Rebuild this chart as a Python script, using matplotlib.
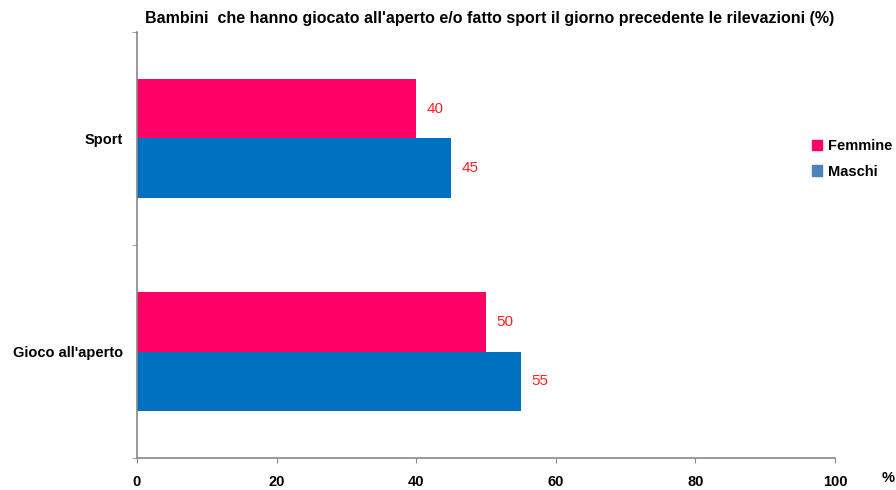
import matplotlib
matplotlib.use("Agg")
from matplotlib import pyplot as plt
from matplotlib.patches import Patch
import numpy as np

categories = ["Sport", "Gioco all'aperto"]
femmine = [40, 50]
maschi = [45, 55]
series_names = ["Femmine", "Maschi"]
x_ticks = [0, 20, 40, 60, 80, 100]

pink = "#FF0066"
blue = "#0070C0"
legend_blue = "#4F81BD"
label_red = "#FF2020"

plt.rcParams['font.family'] = ['Liberation Sans Narrow', 'Liberation Sans', 'DejaVu Sans']

fig = plt.figure(figsize=(8.96, 4.9), dpi=100)
ax = fig.add_axes([0.1529, 0.0653, 0.779, 0.8694])

# categories from top to bottom: Sport at y=1, Gioco at y=0
ypos = np.array([1, 0])
h = 0.28
bf = ax.barh(ypos + h / 2, femmine, height=h, color=pink)
bm = ax.barh(ypos - h / 2, maschi, height=h, color=blue)

for bars, vals in ((bf, femmine), (bm, maschi)):
    for b, v in zip(bars, vals):
        ax.text(v + 1.5, b.get_y() + b.get_height() / 2, f"{v}",
                va="center", ha="left", color=label_red, fontsize=11)

ax.set_xlim(0, 100)
ax.set_ylim(-0.5, 1.5)
ax.set_xticks(x_ticks)
ax.set_xticklabels([str(t) for t in x_ticks], fontsize=10.5, fontweight="bold")
ax.set_yticks(ypos)
ax.set_yticklabels(categories, fontsize=10.5, fontweight="bold")
ax.set_yticks([-0.5, 0.5, 1.5], minor=True)
ax.tick_params(axis="y", which="major", length=0, pad=10)
ax.tick_params(axis="y", which="minor", length=3.5, color="#888888")
ax.tick_params(axis="x", length=3.5, color="#888888", pad=9)

for s in ("top", "right"):
    ax.spines[s].set_visible(False)
for s in ("left", "bottom"):
    ax.spines[s].set_color("#888888")
    ax.spines[s].set_linewidth(1.2)

fig.text(0.546, 0.962, "Bambini  che hanno giocato all'aperto e/o fatto sport il giorno precedente le rilevazioni (%)",
         ha="center", va="center", fontsize=11.5, fontweight="bold")
fig.text(0.991, 0.025, "%", ha="center", va="center", fontsize=10.5, fontweight="bold")

handles = [Patch(color=pink), Patch(color=legend_blue)]
fig.legend(handles, series_names, loc="center left", bbox_to_anchor=(0.906, 0.676),
           frameon=False, prop={"weight": "bold", "size": 10.5},
           handlelength=0.7, handleheight=0.7, handletextpad=0.4, labelspacing=0.8,
           borderaxespad=0, borderpad=0)

fig.savefig("out.png", dpi=100)
